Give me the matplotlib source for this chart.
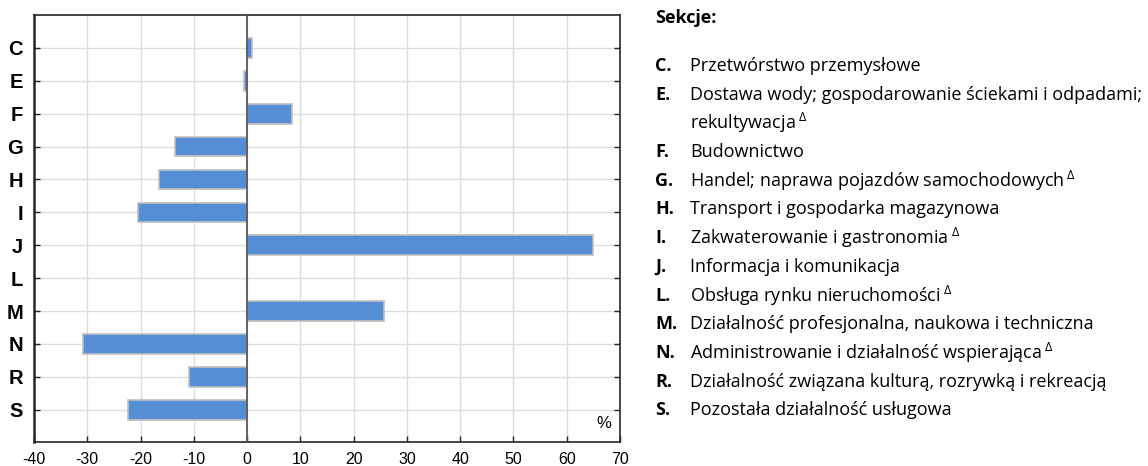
import numpy as np
import matplotlib
matplotlib.use("Agg")
import matplotlib.pyplot as plt

sections = ["C", "E", "F", "G", "H", "I", "J", "L", "M", "N", "R", "S"]
values = [1.0, -0.5, 8.5, -13.6, -16.5, -20.4, 65.0, 0.0, 25.7, -30.8, -10.9, -22.3]
descriptions = [
    "Przetwórstwo przemysłowe",
    "Dostawa wody; gospodarowanie ściekami i odpadami;\nrekultywacja",
    "Budownictwo",
    "Handel; naprawa pojazdów samochodowych",
    "Transport i gospodarka magazynowa",
    "Zakwaterowanie i gastronomia",
    "Informacja i komunikacja",
    "Obsługa rynku nieruchomości",
    "Działalność profesjonalna, naukowa i techniczna",
    "Administrowanie i działalność wspierająca",
    "Działalność związana kulturą, rozrywką i rekreacją",
    "Pozostała działalność usługowa",
]
delta = [False, True, False, True, False, True, False, True, False, True, False, False]
x_ticks = list(range(-40, 71, 10))

plt.rcParams["mathtext.fontset"] = "custom"
plt.rcParams["mathtext.rm"] = "Open Sans"

fig = plt.figure(figsize=(11.48, 4.66), dpi=100)
ax = fig.add_axes([34 / 1148, 1 - 442 / 466, (620 - 34) / 1148, (442 - 15) / 466])

y = np.arange(len(sections))
ax.barh(y, values, height=0.6, color="#558ED5", edgecolor="#BFBFBF", linewidth=1.2, zorder=3)
ax.axvline(0, color="#595959", linewidth=1.3, zorder=4)

ax.set_xlim(-40, 70)
ax.set_ylim(11.98, -1)
ax.set_xticks(x_ticks)
ax.set_xticklabels([str(t) for t in x_ticks], fontsize=11.5, family="Liberation Sans")
ax.set_yticks(y)
ax.set_yticklabels(sections, fontsize=14.5, fontweight="bold", family="Liberation Sans")
ax.tick_params(axis="both", direction="in", length=4, width=1, color="#262626")
ax.tick_params(axis="y", right=True, pad=8)
ax.tick_params(axis="x", pad=7)
ax.grid(True, color="#DDDDDD", linewidth=1, zorder=0)
for s in ax.spines.values():
    s.set_color("#262626")
    s.set_linewidth(1.2)
ax.spines["left"].set_linewidth(1.8)

ax.text(0.985, 0.025, "%", transform=ax.transAxes, ha="right", va="bottom",
        fontsize=12, family="Liberation Sans")

# legend with section names
fs = 13
fig.text(655 / 1148, 1 - 18 / 466, "Sekcje:", fontsize=fs, fontweight="bold",
         family="Open Sans", va="center")
ypix = 66
for sec, desc, d in zip(sections, descriptions, delta):
    fig.text(655 / 1148, 1 - ypix / 466, sec + ".", fontsize=fs, fontweight="bold",
             family="Open Sans", va="center")
    lines = desc.split("\n")
    for i, line in enumerate(lines):
        txt = line
        if d and i == len(lines) - 1:
            txt = line + r"$\,^{\Delta}$"
        fig.text(690 / 1148, 1 - ypix / 466, txt, fontsize=fs, family="Open Sans", va="center")
        ypix += 28.7

fig.savefig("out.png", dpi=100)
